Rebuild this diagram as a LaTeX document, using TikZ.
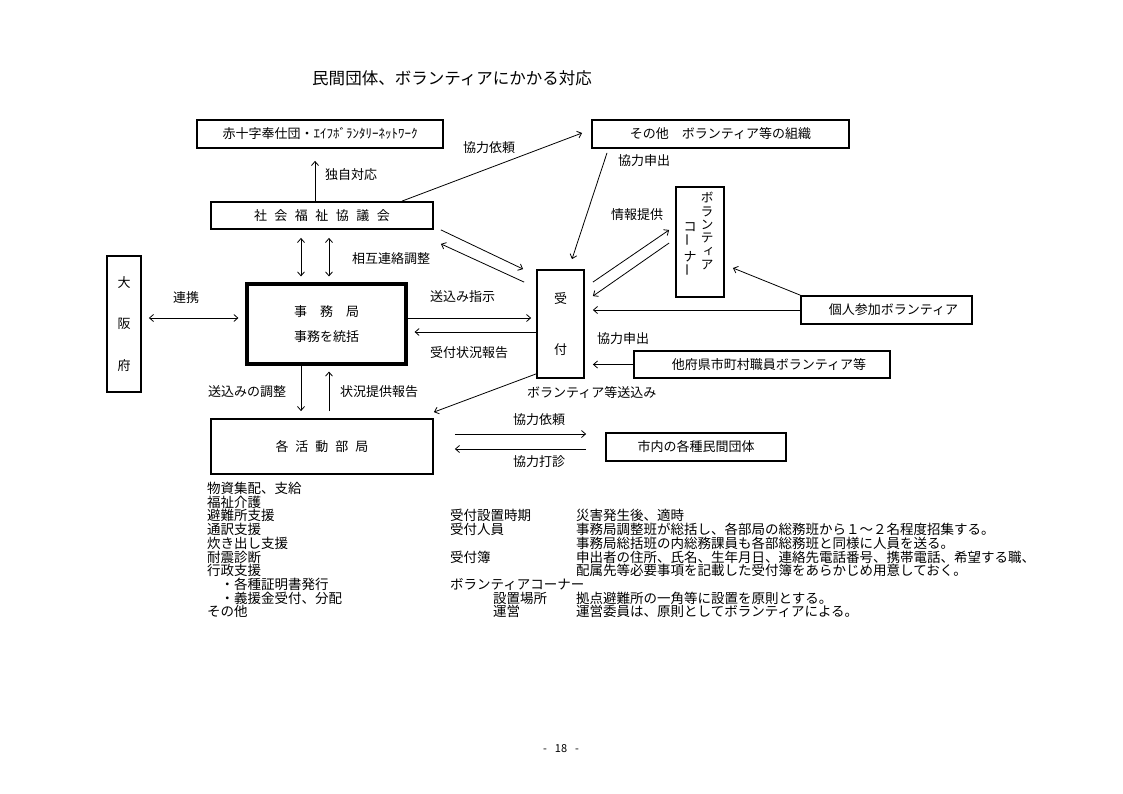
\documentclass[tikz,border=0pt]{standalone}
\usepackage{fontspec}
\setmainfont{Noto Sans CJK JP}
\newfontfamily\vjp[RawFeature=+vert]{Noto Sans CJK JP}
\usetikzlibrary{arrows.meta,positioning,calc}
\newcommand{\jpfont}{\fontsize{13}{15.6}\selectfont}
\newcommand{\vbar}{\rotatebox{90}{ー}}
\newcommand{\noteline}[3]{\makebox[243pt][l]{#1}\makebox[126pt][l]{#2}#3}
\tikzset{
  orgbox/.style 2 args={draw, line width=1.8pt, minimum width=#1, minimum height=#2,
                        inner sep=0pt, font=\jpfont},
  lbl/.style={font=\jpfont, inner sep=0pt},
  arr/.style={line width=0.8pt, -{Straight Barb[length=4pt,width=7pt]}},
  dblarr/.style={line width=0.8pt, {Straight Barb[length=4pt,width=7pt]}-{Straight Barb[length=4pt,width=7pt]}},
}

\begin{document}
\begin{tikzpicture}[x=1pt, y=-1pt]
\useasboundingbox (0,0) rectangle (1123,794);
% Title
\node[font=\fontsize{16.5}{20}\selectfont, inner sep=0pt] (title) at (452,78) {民間団体、ボランティアにかかる対応};

% Top row: outside organisations
\node[orgbox={246pt}{28pt}] (redcross) at (320,134) {赤十字奉仕団・ｴｲﾌﾎﾞﾗﾝﾀﾘｰﾈｯﾄﾜｰｸ};
\node[orgbox={257pt}{28pt}] (others) at (720.5,134) {その他　ボランティア等の組織};
\node[orgbox={222pt}{27pt}] (shakyo) at (322,215.5) {社\hspace{7.5pt}会\hspace{7.5pt}福\hspace{7.5pt}祉\hspace{7.5pt}協\hspace{7.5pt}議\hspace{7.5pt}会};

% Volunteer corner (vertical text)
\node[orgbox={48pt}{110pt}] (corner) at (700,242) {};
\node[lbl, align=center, font=\vjp\fontsize{13}{13.3}\selectfont] (cornerA) at (707,231) {ボ\\ラ\\ン\\テ\\ィ\\ア};
\node[lbl, align=center, font=\fontsize{13}{15}\selectfont] (cornerB) at (690,250) {コ\\\vbar\\ナ\\\vbar};

% Middle row
\node[orgbox={34pt}{136pt}, align=center] (osaka) at (124,324) {大\\[26pt]阪\\[26pt]府};
\node[orgbox={159pt}{80pt}, line width=3.2pt, align=center] (jimukyoku) at (326.5,324) {事　務　局\\[10pt]事務を統括};
\node[orgbox={47pt}{108pt}, align=center] (uketsuke) at (560.5,324) {受\\[35pt]付};
\node[orgbox={171pt}{28pt}] (kojin) at (886.5,310) {\hspace{14pt}個人参加ボランティア};
\node[orgbox={256pt}{27pt}] (tafuken) at (762,364.5) {\hspace{14pt}他府県市町村職員ボランティア等};

% Bottom row
\node[orgbox={222pt}{55pt}] (kakubu) at (322,446.5) {各\hspace{7pt}活\hspace{7pt}動\hspace{7pt}部\hspace{7pt}局};
\node[orgbox={180pt}{28pt}] (shinai) at (696,447) {市内の各種民間団体};

% Connector labels
\node[lbl, anchor=west] (lbdokuji) at (325,175) {独自対応};
\node[lbl, anchor=west] (lbirai) at (463,148) {協力依頼};
\node[lbl, anchor=west] (lbmoushide) at (618,161) {協力申出};
\node[lbl, anchor=west] (lbjoho) at (611,215) {情報提供};
\node[lbl, anchor=west] (lbsogo) at (352,259) {相互連絡調整};
\node[lbl, anchor=west] (lbrenkei) at (173,298) {連携};
\node[lbl, anchor=west] (lbshiji) at (430,297) {送込み指示};
\node[lbl, anchor=west] (lbhokoku) at (430,353) {受付状況報告};
\node[lbl, anchor=west] (lbmoushideb) at (597,339) {協力申出};
\node[lbl, anchor=west] (lbsend) at (527,393) {ボランティア等送込み};
\node[lbl, anchor=west] (lbchosei) at (208,392) {送込みの調整};
\node[lbl, anchor=west] (lbjokyo) at (340,392) {状況提供報告};
\node[lbl, anchor=west] (lbiraib) at (513,420) {協力依頼};
\node[lbl, anchor=west] (lbdashin) at (513,462) {協力打診};

% Connectors
\draw[arr] ($(shakyo.north)+(-7,0)$) -- ($(redcross.south)+(-5,12)$);
\draw[arr] ($(shakyo.north)+(80,0)$) -- ($(others.west)+(-9,-1)$);
\draw[arr] ($(others.south)+(-113.5,4)$) -- ($(uketsuke.north)+(11.5,-10)$);
\draw[arr] ($(shakyo.south east)+(7,0)$) -- ($(uketsuke.north west)+(-13,0)$);
\draw[arr] ($(uketsuke.north west)+(-12,13)$) -- ($(shakyo.south east)+(7,14)$);
\draw[arr] ($(uketsuke.north east)+(8,13)$) -- ($(corner.west)+(-6,-12)$);
\draw[arr] ($(corner.west)+(-6,1)$) -- ($(uketsuke.north east)+(8,27)$);
\draw[arr] (kojin.north west) -- ($(corner.east)+(8,26)$);
\draw[arr] (kojin.west) -- ($(kojin.west -| uketsuke.east)+(8,0)$);
\draw[arr] (tafuken.west) -- ($(tafuken.west -| uketsuke.east)+(8,0)$);
\draw[arr] ($(uketsuke.south west)+(0,-5)$) -- ($(kakubu.north east)+(0,-6)$);
\draw[arr] ($(jimukyoku.east)+(0,-6)$) -- ($(uketsuke.west)+(-5,-6)$);
\draw[arr] ($(uketsuke.west)+(0,8)$) -- ($(jimukyoku.east)+(7,8)$);
\draw[dblarr] ($(osaka.east)+(7,-6)$) -- ($(jimukyoku.west)+(-7,-6)$);
\draw[dblarr] ($(shakyo.south)+(-21,8)$) -- ($(jimukyoku.north)+(-25.5,-6)$);
\draw[dblarr] ($(shakyo.south)+(7,8)$) -- ($(jimukyoku.north)+(2.5,-6)$);
\draw[arr] ($(jimukyoku.south)+(-25.5,0)$) -- ($(kakubu.north)+(-21,-7)$);
\draw[arr] ($(kakubu.north)+(7,-7)$) -- ($(jimukyoku.south)+(2.5,6)$);
\draw[arr] ($(kakubu.east)+(21,-12.5)$) -- ($(shinai.west)+(-19,-13)$);
\draw[arr] ($(shinai.west)+(-19,2)$) -- ($(kakubu.east)+(21,2.5)$);

% Notes below the chart
\node[anchor=north west, inner sep=0pt, align=left, font=\fontsize{13.5}{13.7}\selectfont] (notes) at (207,482) {%
\noteline{物資集配、支給}{}{}\\
\noteline{福祉介護}{}{}\\
\noteline{避難所支援}{受付設置時期}{災害発生後、適時}\\
\noteline{通訳支援}{受付人員}{事務局調整班が総括し、各部局の総務班から１～２名程度招集する。}\\
\noteline{炊き出し支援}{}{事務局総括班の内総務課員も各部総務班と同様に人員を送る。}\\
\noteline{耐震診断}{受付簿}{申出者の住所、氏名、生年月日、連絡先電話番号、携帯電話、希望する職、}\\
\noteline{行政支援}{}{配属先等必要事項を記載した受付簿をあらかじめ用意しておく。}\\
\makebox[243pt][l]{　・各種証明書発行}ボランティアコーナー\\
\noteline{　・義援金受付、分配}{\hspace{43pt}設置場所}{拠点避難所の一角等に設置を原則とする。}\\
\noteline{その他}{\hspace{43pt}運営}{運営委員は、原則としてボランティアによる。}};

% Page number
\node[font=\fontsize{11}{13}\selectfont, inner sep=0pt] (pageno) at (561,749) {-\hspace{8pt}18\hspace{8pt}-};
\end{tikzpicture}
\end{document}
